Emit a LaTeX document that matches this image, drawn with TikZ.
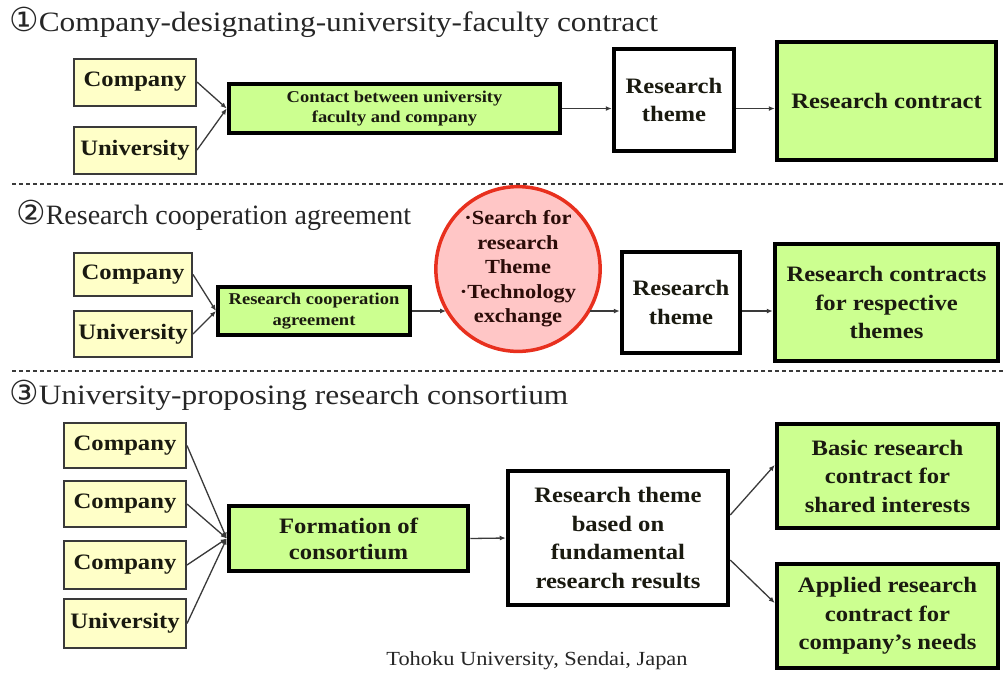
\documentclass[tikz,border=0pt]{standalone}
\usepackage{fontspec}
\setmainfont{Liberation Serif}
\newfontfamily\boxfont[FakeStretch=1.12]{Liberation Serif}
\newfontfamily\symfont{DejaVu Sans}
\usetikzlibrary{arrows.meta,shapes.geometric}

\definecolor{partyyellow}{HTML}{FFFFC8}
\definecolor{stagegreen}{HTML}{CCFF90}
\definecolor{ideapink}{HTML}{FFC6C6}
\definecolor{ideared}{HTML}{E8301E}
\definecolor{inkdark}{HTML}{1A1A10}
\definecolor{linegray}{HTML}{3A3A3A}

\newcommand{\circnum}[1]{{\symfont\fontsize{33}{33}\selectfont #1}}

\tikzset{
  party/.style={draw=linegray, line width=2pt, fill=partyyellow, inner sep=0pt,
    text=inkdark, font=\boxfont\bfseries\fontsize{22}{26}\selectfont},
  stage/.style={draw=black, line width=4.5pt, inner sep=0pt, align=center,
    text=inkdark, font=\boxfont\bfseries\fontsize{22}{28.5}\selectfont},
  greenstage/.style={stage, fill=stagegreen},
  whitestage/.style={stage, fill=white},
  smalltext/.style={font=\boxfont\bfseries\fontsize{16.5}{20.5}\selectfont},
  idea/.style={ellipse, draw=ideared, line width=3.5pt, fill=ideapink, inner sep=0pt,
    align=center, text=inkdark!80!red!60!black,
    font=\boxfont\bfseries\fontsize{20}{24.5}\selectfont},
  flow/.style={draw=linegray, line width=1.3pt, -{Latex[length=6pt,width=5pt]}},
  sep/.style={draw=linegray, line width=1.3pt, dash pattern=on 4pt off 3pt},
  heading/.style={anchor=west, inner sep=0pt, text=black!85,
    font=\fontsize{28}{32}\selectfont},
  wideheading/.style={heading, font=\boxfont\fontsize{28}{32}\selectfont},
}

\begin{document}
\begin{tikzpicture}[x=1pt,y=-1pt]
\useasboundingbox[fill=white] (0,0) rectangle (1003,673);

% ---- scheme 1 ----
\node[wideheading] (t1) at (9,22) {\circnum{①}Company-designating-university-faculty contract};
\node[party, minimum width=122, minimum height=47] (c1) at (135,82) {Company};
\node[party, minimum width=122, minimum height=47] (u1) at (135,150) {University};
\node[greenstage, smalltext, minimum width=331, minimum height=49] (contact) at (394.5,108.5)
  {Contact between university\\faculty and company};
\node[whitestage, minimum width=120, minimum height=102] (theme1) at (674,100) {Research\\theme};
\node[greenstage, minimum width=219, minimum height=118] (contract1) at (886.5,101) {Research contract};
\draw[flow] (c1.east) -- (contact.west);
\draw[flow] (u1.east) -- (contact.west);
\draw[flow] (contact.east) -- (theme1.west |- contact.east);
\draw[flow] (theme1.east |- contact.east) -- (contract1.west |- contact.east);

\coordinate (s1l) at (12,184);
\coordinate (s1r) at (1003,184);
\draw[sep] (s1l) -- (s1r);

% ---- scheme 2 ----
\node[heading] (t2) at (16,215) {\circnum{②}Research cooperation agreement};
\node[party, minimum width=118, minimum height=43] (c2) at (133,274.5) {Company};
\node[party, minimum width=118, minimum height=46] (u2) at (133,334) {University};
\node[greenstage, smalltext, line width=4pt, minimum width=192, minimum height=48] (coop) at (314,311)
  {Research cooperation\\agreement};
\node[idea, minimum width=158, minimum height=164] (ell) at (518,269)
  {·Search for\\research\\Theme\\·Technology\\exchange};
\node[whitestage, minimum width=118, minimum height=101] (theme2) at (681,302.5) {Research\\theme};
\node[greenstage, minimum width=223, minimum height=117] (contract2) at (886.5,302.5)
  {Research contracts\\for respective\\themes};
\draw[flow] (c2.east) -- (coop.west);
\draw[flow] (u2.east) -- (coop.west);
\draw[flow] (coop.east) -- (coop.east -| ell.211);
\draw[flow] (ell.329 |- coop.east) -- (theme2.west |- coop.east);
\draw[flow] (theme2.east |- coop.east) -- (contract2.west |- coop.east);

\coordinate (s2l) at (12,371);
\coordinate (s2r) at (1003,371);
\draw[sep] (s2l) -- (s2r);

% ---- scheme 3 ----
\node[wideheading] (t3) at (9,395) {\circnum{③}University-proposing research consortium};
\node[party, minimum width=122, minimum height=45] (c3a) at (125,445.5) {Company};
\node[party, minimum width=122, minimum height=46] (c3b) at (125,504) {Company};
\node[party, minimum width=122, minimum height=48] (c3c) at (125,565) {Company};
\node[party, minimum width=122, minimum height=49] (u3) at (125,623.5) {University};
\node[greenstage, minimum width=239, minimum height=65, font=\boxfont\bfseries\fontsize{22}{26}\selectfont]
  (form) at (348.5,538.5) {Formation of\\consortium};
\node[whitestage, minimum width=220, minimum height=134] (theme3) at (618,538)
  {Research theme\\based on\\fundamental\\research results};
\node[greenstage, minimum width=221, minimum height=104] (basic) at (887.5,476)
  {Basic research\\contract for\\shared interests};
\node[greenstage, minimum width=221, minimum height=104] (applied) at (887.5,616)
  {Applied research\\contract for\\company’s needs};
\foreach \src in {c3a,c3b,c3c,u3}
  \draw[flow] (\src.east) -- (form.west);
\draw[flow] (form.east) -- (theme3.west);
\draw[flow] ([yshift=23pt]theme3.east) -- ([yshift=11pt]basic.west);
\draw[flow] ([yshift=-22pt]theme3.east) -- ([yshift=13pt]applied.west);

\node[anchor=center, inner sep=0pt, text=black!85, font=\boxfont\fontsize{20}{22}\selectfont]
  (src) at (537,661) {Tohoku University, Sendai, Japan};
\end{tikzpicture}
\end{document}
